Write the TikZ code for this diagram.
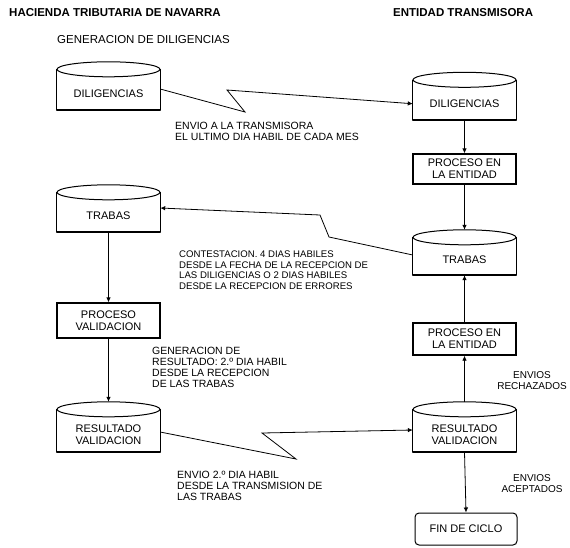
\documentclass[tikz,border=0pt]{standalone}
\usepackage{fontspec}
\setmainfont{Liberation Sans}
\usetikzlibrary{arrows.meta}
\newcommand\cylnode[5]{%
  \node[cylbody, minimum height={(#4-#3-15)*1pt}] (#1) at (#2,{(#3+15+#4)/2}) {#5};
  \draw[cylline] ([yshift=7.5pt]#1.north west) -- (#1.south west);
  \draw[cylline] ([yshift=7.5pt]#1.north east) -- (#1.south east);
  \draw[cylline, line width=1.5pt, line cap=round] (#1.south west) -- (#1.south east);
  \draw[cylline] ([yshift=7.5pt]#1.north) ellipse [x radius=51.5, y radius=7.5];
  \coordinate (#1-top) at ([yshift=15pt]#1.north);
}
\begin{document}
\begin{tikzpicture}[x=1pt,y=-1pt,
  cylline/.style={line width=1pt},
  con/.style={line width=0.8pt},
  arr/.style={con,-{Latex[length=5pt,width=4.5pt]}},
  boxtxt/.style={font=\fontsize{11}{12}\selectfont, align=center},
  cylbody/.style={boxtxt, minimum width=103pt, inner sep=0pt},
  pbox/.style={line width=1.3pt, draw, boxtxt, minimum width=103pt, inner sep=0pt},
  lbl/.style={anchor=north west, inner sep=0pt, align=left, font=\fontsize{10.5}{11}\selectfont},
  ttl/.style={anchor=west, inner sep=0pt, font=\fontsize{11.5}{12}\selectfont\bfseries},
]
\useasboundingbox (0,0) rectangle (570,547);

% titles
\node[ttl] (tl) at (9,13) {HACIENDA TRIBUTARIA DE NAVARRA};
\node[ttl] (tr) at (393,13) {ENTIDAD TRANSMISORA};
\node[anchor=west, inner sep=0pt, font=\fontsize{11.5}{12}\selectfont] (gen) at (57,40) {GENERACION DE DILIGENCIAS};

% cylinders
\cylnode{dilL}{108.5}{62}{110}{DILIGENCIAS}
\cylnode{dilR}{464.5}{72.5}{120}{DILIGENCIAS}
\cylnode{trabL}{108.5}{185}{232}{TRABAS}
\cylnode{trabR}{464.5}{230}{275}{TRABAS}
\cylnode{resL}{108.5}{402}{452}{RESULTADO\\VALIDACION}
\cylnode{resR}{464.5}{402}{452}{RESULTADO\\VALIDACION}

% boxes
\node[pbox, minimum height=30pt] (proc1) at (464.5,169) {PROCESO EN\\LA ENTIDAD};
\node[pbox, minimum height=35pt] (procV) at (108.5,320.5) {PROCESO\\VALIDACION};
\node[pbox, minimum height=32pt] (proc2) at (464.5,339) {PROCESO EN\\LA ENTIDAD};
\node[pbox, line width=1pt, minimum height=32pt, minimum width=102pt, rounded corners=4pt] (fin) at (466,529) {FIN DE CICLO};

% vertical arrows
\draw[arr] (dilR.south) -- (proc1.north);
\draw[arr] (proc1.south) -- (trabR-top);
\draw[arr] (trabL.south) -- (procV.north);
\draw[arr] (procV.south) -- (resL-top);
\draw[arr] (resR-top) -- (proc2.south);
\draw[arr] (proc2.north) -- (trabR.south);
\draw[arr] (resR.south) -- (fin.north);

% zigzag connectors
\coordinate (z1a) at (245,112);
\coordinate (z1b) at (227,90);
\draw[arr] ([yshift=4.5pt]dilL.east) -- (z1a) -- (z1b) -- (dilR.west);
\coordinate (z2a) at (329,237);
\coordinate (z2b) at (320,215);
\draw[arr] ([yshift=5pt]trabR.west) -- (z2a) -- (z2b) -- ([yshift=8pt]trabL.east);
\coordinate (z3a) at (296,459);
\coordinate (z3b) at (262,433);
\draw[arr] ([yshift=2.5pt]resL.east) -- (z3a) -- (z3b) -- ([yshift=4.5pt]resR.west);

% labels
\node[lbl] (l1) at (175,122.3) {ENVIO A LA TRANSMISORA\\EL ULTIMO DIA HABIL DE CADA MES};
\node[lbl, font=\fontsize{9.6}{10.5}\selectfont] (l2) at (179,250.6) {CONTESTACION. 4 DIAS HABILES\\DESDE LA FECHA DE LA RECEPCION DE\\LAS DILIGENCIAS O 2 DIAS HABILES\\DESDE LA RECEPCION DE ERRORES};
\node[lbl] (l3) at (152,347) {GENERACION DE\\RESULTADO: 2.º DIA HABIL\\DESDE LA RECEPCION\\DE LAS TRABAS};
\node[lbl] (l4) at (177,471.3) {ENVIO 2.º DIA HABIL\\DESDE LA TRANSMISION DE\\LAS TRABAS};
\node[lbl, anchor=north, align=center, font=\fontsize{10}{10.5}\selectfont] (l5) at (532,371.5) {ENVIOS\\RECHAZADOS};
\node[lbl, anchor=north, align=center, font=\fontsize{10}{10.5}\selectfont] (l6) at (532,474.5) {ENVIOS\\ACEPTADOS};
\end{tikzpicture}
\end{document}
